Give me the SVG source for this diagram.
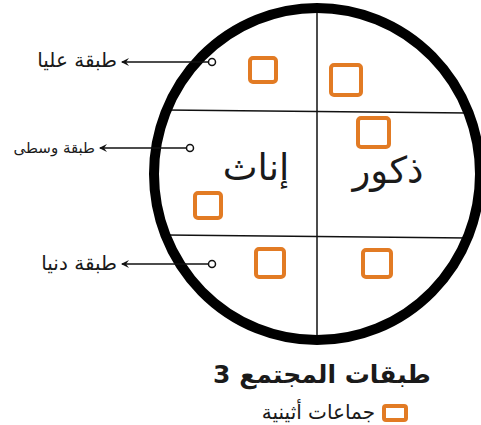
<svg xmlns="http://www.w3.org/2000/svg" width="481" height="425" viewBox="0 0 481 425">
<style>
.lbl{font-family:"DejaVu Sans",sans-serif;fill:#1a1a1a}
.sq{fill:none;stroke:#E27B24;stroke-width:4}
.ln{stroke:#111;stroke-width:1.5;fill:none}
.dot{fill:#fff;stroke:#111;stroke-width:1.5}
</style>
<defs>
<marker id="ah" markerWidth="10" markerHeight="10" refX="8" refY="5" orient="auto" markerUnits="userSpaceOnUse">
<path d="M9,5 L1,1 L4,5 L1,9 Z" fill="#111"/>
</marker>
</defs>
<rect width="481" height="425" fill="#fff"/>
<g id="society">
<line class="ln" x1="317" y1="8" x2="317" y2="340"/>
<line class="ln" x1="166" y1="110" x2="468" y2="113"/>
<line class="ln" x1="166" y1="235" x2="468" y2="238"/>
<ellipse cx="317" cy="174" rx="163" ry="166" fill="none" stroke="#000" stroke-width="10"/>
</g>
<g id="groups">
<rect class="sq" x="250" y="58" width="26" height="24" rx="3"/>
<rect class="sq" x="331" y="65" width="30" height="30" rx="3"/>
<rect class="sq" x="358" y="118" width="31" height="29" rx="3"/>
<rect class="sq" x="195" y="193" width="26" height="25" rx="3"/>
<rect class="sq" x="256" y="249" width="28" height="28" rx="3"/>
<rect class="sq" x="363" y="250" width="28" height="27" rx="3"/>
</g>
<g id="females">
<text class="lbl" x="256" y="180" font-size="37" text-anchor="middle">إناث</text>
</g>
<g id="males">
<text class="lbl" x="388" y="183" font-size="37" text-anchor="middle">ذكور</text>
</g>
<g id="connectors">
<line class="ln" x1="209" y1="62" x2="122" y2="62" marker-end="url(#ah)"/>
<line class="ln" x1="187" y1="148" x2="100" y2="148" marker-end="url(#ah)"/>
<line class="ln" x1="209" y1="264" x2="122" y2="264" marker-end="url(#ah)"/>
<circle class="dot" cx="212" cy="62" r="3.5"/>
<circle class="dot" cx="190" cy="148" r="3.5"/>
<circle class="dot" cx="212" cy="264" r="3.5"/>
</g>
<g id="upper">
<text class="lbl" x="117" y="67" font-size="20" text-anchor="end">طبقة عليا</text>
</g>
<g id="middle">
<text class="lbl" x="95" y="153" font-size="15" text-anchor="end">طبقة وسطى</text>
</g>
<g id="lower">
<text class="lbl" x="117" y="270" font-size="20" text-anchor="end">طبقة دنيا</text>
</g>
<g id="title">
<text class="lbl" x="322" y="383" font-size="25" font-weight="bold" text-anchor="middle" direction="rtl">طبقات المجتمع 3</text>
</g>
<g id="legend">
<rect class="sq" x="384" y="406" width="22" height="14" rx="2"/>
<text class="lbl" x="375" y="419" font-size="20" text-anchor="end">جماعات أثينية</text>
</g>
</svg>
